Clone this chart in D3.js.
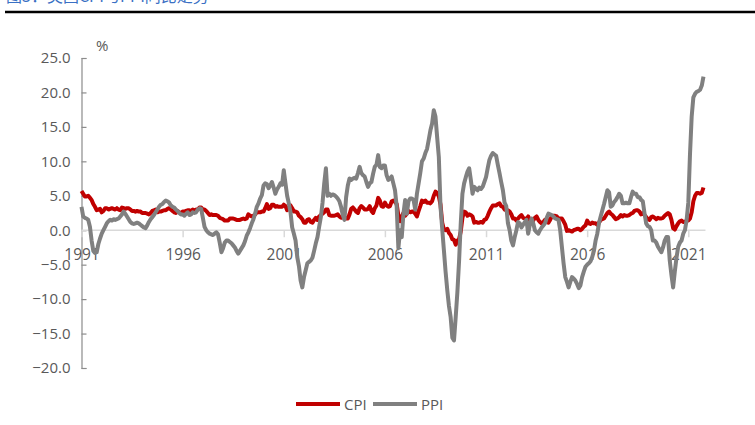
<!DOCTYPE html>
<html>
<head>
<meta charset="utf-8">
<script src="https://cdn.jsdelivr.net/npm/d3@7"></script>
<style>
  html, body { margin: 0; padding: 0; background: #fff; }
  svg { display: block; font-family: "Open Sans", "Noto Sans", sans-serif; }
</style>
</head>
<body>
<svg id="chart" width="755" height="425"></svg>
<script>
// Year labels shown on the category axis (one every 60 months, from Jan 1991)
const yearLabels = ["1991", "1996", "2001", "2006", "2011", "2016", "2021"];
const yTicks = [-20, -15, -10, -5, 0, 5, 10, 15, 20, 25];

// Monthly year-on-year change, %, Jan 1991 – Oct 2021
const cpi = [
  5.7, 5.3, 4.9, 4.9, 5.0, 4.7, 4.4, 3.8, 3.4, 2.9, 3.0, 3.1,   // 1991
  2.6, 2.8, 3.2, 3.2, 3.0, 3.1, 3.2, 3.1, 3.0, 3.2, 3.0, 2.9,   // 1992
  3.3, 3.2, 3.1, 3.2, 3.2, 3.0, 2.8, 2.8, 2.7, 2.8, 2.7, 2.7,   // 1993
  2.5, 2.5, 2.5, 2.4, 2.3, 2.5, 2.8, 2.9, 3.0, 2.6, 2.7, 2.7,   // 1994
  2.8, 2.9, 2.9, 3.1, 3.2, 3.0, 2.8, 2.6, 2.5, 2.8, 2.6, 2.5,   // 1995
  2.7, 2.7, 2.8, 2.9, 2.9, 2.8, 3.0, 2.9, 3.0, 3.0, 3.3, 3.3,   // 1996
  3.0, 3.0, 2.8, 2.5, 2.2, 2.3, 2.2, 2.2, 2.2, 2.1, 1.8, 1.7,   // 1997
  1.6, 1.4, 1.4, 1.4, 1.7, 1.7, 1.7, 1.6, 1.5, 1.5, 1.5, 1.6,   // 1998
  1.7, 1.6, 1.7, 2.3, 2.1, 2.0, 2.1, 2.3, 2.6, 2.6, 2.6, 2.7,   // 1999
  2.7, 3.2, 3.8, 3.1, 3.2, 3.7, 3.7, 3.4, 3.5, 3.4, 3.4, 3.4,   // 2000
  3.7, 3.5, 2.9, 3.3, 3.6, 3.2, 2.7, 2.7, 2.6, 2.1, 1.9, 1.6,   // 2001
  1.1, 1.1, 1.5, 1.6, 1.2, 1.1, 1.5, 1.8, 1.5, 2.0, 2.2, 2.4,   // 2002
  2.6, 3.0, 3.0, 2.2, 2.1, 2.1, 2.1, 2.2, 2.3, 2.0, 1.8, 1.9,   // 2003
  1.9, 1.7, 1.7, 2.3, 3.1, 3.3, 3.0, 2.7, 2.5, 3.2, 3.5, 3.3,   // 2004
  3.0, 3.0, 3.1, 3.5, 2.8, 2.5, 3.2, 3.6, 4.7, 4.3, 3.5, 3.4,   // 2005
  4.0, 3.6, 3.4, 3.5, 4.2, 4.3, 4.1, 3.8, 2.1, 1.3, 2.0, 2.5,   // 2006
  2.1, 2.4, 2.8, 2.6, 2.7, 2.7, 2.4, 2.0, 2.8, 3.5, 4.3, 4.1,   // 2007
  4.3, 4.0, 4.0, 3.9, 4.2, 5.0, 5.6, 5.4, 4.9, 3.7, 1.1, 0.1,   // 2008
  0.0, 0.2, -0.4, -0.7, -1.3, -1.4, -2.1, -1.5, -1.3, -0.2, 1.8, 2.7, // 2009
  2.6, 2.1, 2.3, 2.2, 2.0, 1.1, 1.2, 1.1, 1.1, 1.2, 1.1, 1.5,   // 2010
  1.6, 2.1, 2.7, 3.2, 3.6, 3.6, 3.6, 3.8, 3.9, 3.5, 3.4, 3.0,   // 2011
  2.9, 2.9, 2.7, 2.3, 1.7, 1.7, 1.4, 1.7, 2.0, 2.2, 1.8, 1.7,   // 2012
  1.6, 2.0, 1.5, 1.1, 1.4, 1.8, 2.0, 1.5, 1.2, 1.0, 1.2, 1.5,   // 2013
  1.6, 1.1, 1.5, 2.0, 2.1, 2.1, 2.0, 1.7, 1.7, 1.7, 1.3, 0.8,   // 2014
  -0.1, 0.0, -0.1, -0.2, 0.0, 0.1, 0.2, 0.2, 0.0, 0.2, 0.5, 0.7, // 2015
  1.4, 1.0, 0.9, 1.1, 1.0, 1.0, 0.8, 1.1, 1.5, 1.6, 1.7, 2.1,   // 2016
  2.5, 2.7, 2.4, 2.2, 1.9, 1.6, 1.7, 1.9, 2.2, 2.0, 2.2, 2.1,   // 2017
  2.1, 2.2, 2.4, 2.5, 2.8, 2.9, 2.9, 2.7, 2.3, 2.5, 2.2, 1.9,   // 2018
  1.6, 1.5, 1.9, 2.0, 1.8, 1.6, 1.8, 1.7, 1.7, 1.8, 2.1, 2.3,   // 2019
  2.5, 2.3, 1.5, 0.3, 0.1, 0.6, 1.0, 1.3, 1.4, 1.2, 1.2, 1.4,   // 2020
  1.4, 1.7, 2.6, 4.2, 5.0, 5.4, 5.4, 5.3, 5.4, 6.2              // 2021
];

const ppi = [
  3.4, 2.0, 1.8, 1.7, 1.5, 0.5, -1.5, -3.0, -3.3, -3.2, -2.0, -1.2,     // 1991
  -0.5, 0.0, 0.5, 1.0, 1.3, 1.5, 1.4, 1.6, 1.5, 1.6, 1.7, 2.0,          // 1992
  2.3, 2.7, 2.4, 2.0, 1.6, 1.2, 1.0, 0.9, 1.0, 1.1, 1.0, 0.8,           // 1993
  0.6, 0.4, 0.3, 0.7, 1.2, 1.6, 1.9, 2.2, 2.6, 3.0, 3.4, 3.7,           // 1994
  3.8, 4.1, 4.3, 4.2, 4.0, 3.6, 3.4, 3.3, 3.0, 2.8, 2.5, 2.3,           // 1995
  2.3, 2.1, 2.4, 2.6, 2.2, 2.3, 2.6, 2.5, 2.6, 3.0, 3.2, 3.1,           // 1996
  1.8, 0.5, 0.0, -0.3, -0.5, -0.6, -0.7, -0.5, -0.3, -0.6, -1.8, -3.2,  // 1997
  -2.6, -1.8, -1.5, -1.5, -1.7, -1.9, -2.2, -2.5, -3.0, -3.4, -3.0, -2.6, // 1998
  -2.2, -1.6, -0.8, -0.3, 0.3, 1.0, 1.6, 2.4, 3.4, 3.9, 4.6, 5.1,       // 1999
  6.5, 6.8, 6.7, 6.1, 6.5, 7.0, 6.2, 5.3, 5.9, 6.3, 6.8, 6.6,           // 2000
  8.7, 6.8, 5.0, 3.9, 2.6, 0.4, -0.5, -1.5, -3.9, -5.2, -7.3, -8.3,     // 2001
  -6.8, -5.8, -4.8, -4.6, -4.4, -4.0, -3.0, -1.9, -1.0, 0.5, 1.9, 4.0,  // 2002
  6.8, 9.0, 5.0, 5.3, 5.0, 5.2, 5.1, 4.9, 4.6, 4.2, 3.4, 2.2,           // 2003
  1.5, 4.8, 6.5, 7.5, 7.3, 7.5, 7.6, 7.5, 8.3, 9.2, 8.3, 8.0,           // 2004
  7.8, 7.0, 6.3, 6.8, 7.0, 8.2, 9.2, 9.5, 10.9, 9.2, 9.0, 9.4,          // 2005
  9.4, 8.0, 7.3, 7.5, 7.8, 6.8, 5.8, 3.4, -2.6, 0.0, -1.0, 2.4,         // 2006
  4.4, 2.4, 4.2, 4.6, 4.6, 4.4, 3.0, 5.3, 6.8, 8.3, 10.0, 10.4,         // 2007
  11.2, 11.8, 13.1, 14.5, 15.5, 17.4, 16.5, 13.5, 10.6, 3.4, 0.2, -2.9, // 2008
  -6.0, -8.7, -11.0, -12.6, -15.6, -16.0, -12.6, -9.0, -4.5, 1.0, 5.3, 6.8, // 2009
  7.7, 8.5, 9.0, 7.3, 5.3, 6.3, 6.0, 5.8, 6.2, 6.0, 6.3, 7.0,           // 2010
  7.7, 9.0, 10.2, 10.8, 11.2, 11.0, 10.8, 9.5, 8.3, 7.0, 5.8, 4.0,      // 2011
  3.5, 1.0, 0.0, -1.5, -2.2, -1.0, 0.0, 1.2, 1.0, 0.4, 0.8, 1.2,        // 2012
  1.5, -0.5, 0.8, 1.7, 1.0, 0.0, -0.3, -0.5, 0.0, 0.4, 0.7, 1.0,        // 2013
  1.8, 2.4, 2.3, 2.2, 2.0, 1.7, 1.6, 1.5, 0.0, -2.4, -4.8, -6.8,        // 2014
  -7.5, -8.3, -7.5, -6.8, -7.0, -7.3, -7.8, -8.4, -8.0, -6.8, -6.0, -5.3, // 2015
  -5.0, -4.8, -4.5, -3.9, -3.0, -1.5, -0.5, 1.0, 2.0, 2.9, 3.8, 4.8,    // 2016
  5.8, 5.5, 3.4, 3.6, 4.1, 4.4, 4.8, 5.3, 5.0, 3.9, 3.9, 4.0,           // 2017
  3.9, 3.9, 4.8, 5.6, 5.3, 5.3, 4.8, 4.8, 4.4, 4.2, 2.5, 1.0,           // 2018
  0.6, 0.5, 0.0, -1.5, -1.5, -1.8, -2.4, -2.8, -3.2, -2.5, -1.5, -1.0,  // 2019
  -1.0, -4.4, -6.5, -8.3, -6.0, -4.0, -2.4, -1.8, -1.5, -0.5, 0.0, 1.5, // 2020
  4.0, 11.0, 16.5, 19.3, 19.8, 20.1, 20.2, 20.4, 21.0, 22.3             // 2021
];

const seriesNames = ["CPI", "PPI"];
const seriesColors = ["#c00000", "#808080"];

const svg = d3.select("#chart");
const textColor = "#595959";

// Header: blue title running off the top edge, black rule beneath it
svg.append("text")
  .attr("x", 6).attr("y", 2)
  .attr("font-size", 16)
  .attr("font-family", "'Noto Sans CJK SC', sans-serif")
  .attr("fill", "#3a70c4")
  .text("图3：美国CPI与PPI同比走势");
svg.append("line")
  .attr("x1", 5).attr("x2", 755).attr("y1", 12).attr("y2", 12)
  .attr("stroke", "#000").attr("stroke-width", 2.5);

// Scales: month index on x, percent on y
const x = d3.scaleLinear().domain([0, 360]).range([81.5, 688.3]);
const y = d3.scaleLinear().domain([-20, 25]).range([368, 58]);

// Y axis with inside ticks
const yAxis = svg.append("g")
  .attr("transform", `translate(${x(0)},0)`)
  .call(d3.axisLeft(y).tickValues(yTicks).tickFormat(d3.format(".1f"))
    .tickSizeInner(-5).tickSizeOuter(-5).tickPadding(11));
yAxis.select(".domain").attr("stroke", "#8c8c8c").attr("stroke-width", 1.2);
yAxis.selectAll(".tick line").attr("stroke", "#8c8c8c").attr("stroke-width", 1.2);
yAxis.selectAll("text").attr("fill", textColor).attr("font-size", 15)
  .attr("font-family", "'Open Sans', sans-serif");

// Category axis crossing at zero
const xAxis = svg.append("g")
  .attr("transform", `translate(0,${y(0)})`)
  .call(d3.axisBottom(x)
    .tickValues(yearLabels.map((_, i) => i * 60))
    .tickFormat((d, i) => yearLabels[i])
    .tickSizeInner(7).tickSizeOuter(0).tickPadding(12));
xAxis.select(".domain").attr("stroke", "#d9d9d9").attr("stroke-width", 1.5)
  .attr("d", `M${x(0)},0H${x(cpi.length - 1) + 2}`);
xAxis.selectAll(".tick line").attr("stroke", "#d9d9d9").attr("stroke-width", 1.5);
xAxis.selectAll("text").attr("fill", textColor).attr("font-size", 15.5)
  .attr("font-family", "'Open Sans', sans-serif");

// Unit label
svg.append("text")
  .attr("x", 96).attr("y", 51)
  .attr("fill", textColor).attr("font-size", 15)
  .text("%");

// Series lines
const line = d3.line().x((d, i) => x(i)).y(d => y(d));
[cpi, ppi].forEach((series, k) => {
  svg.append("path")
    .datum(series)
    .attr("fill", "none")
    .attr("stroke", seriesColors[k])
    .attr("stroke-width", 4)
    .attr("stroke-linejoin", "round")
    .attr("d", line);
});

// Legend
const legendItems = [
  { x1: 296, x2: 340, tx: 344 },
  { x1: 373, x2: 417, tx: 421 }
];
legendItems.forEach((it, k) => {
  svg.append("line")
    .attr("x1", it.x1).attr("x2", it.x2).attr("y1", 404).attr("y2", 404)
    .attr("stroke", seriesColors[k]).attr("stroke-width", 4);
  svg.append("text")
    .attr("x", it.tx).attr("y", 409.5)
    .attr("fill", textColor).attr("font-size", 15)
    .text(seriesNames[k]);
});
</script>
</body>
</html>
